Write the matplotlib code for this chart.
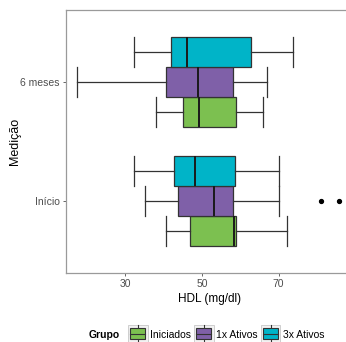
import numpy as np
import matplotlib
matplotlib.use("Agg")
import matplotlib.pyplot as plt
from matplotlib.patches import Rectangle
from matplotlib.lines import Line2D
from matplotlib.legend_handler import HandlerBase
from matplotlib.offsetbox import HPacker

plt.rcParams['font.family'] = ['Liberation Sans', 'DejaVu Sans']

# data (HDL mg/dl)
times = ["Início", "6 meses"]
groups = ["Iniciados", "1x Ativos", "3x Ativos"]
colors = ["#7CC050", "#7F60A8", "#00B4C8"]

# per group: [Início, 6 meses]
whislo = {"Iniciados": [40.6, 38.1], "1x Ativos": [35.2, 17.5], "3x Ativos": [32.3, 32.3]}
q1 = {"Iniciados": [46.8, 45.1], "1x Ativos": [43.8, 40.7], "3x Ativos": [42.8, 42.0]}
med = {"Iniciados": [58.3, 49.2], "1x Ativos": [53.2, 48.9], "3x Ativos": [48.2, 46.2]}
q3 = {"Iniciados": [58.8, 59.0], "1x Ativos": [58.1, 58.1], "3x Ativos": [58.7, 62.9]}
whishi = {"Iniciados": [72.1, 66.0], "1x Ativos": [70.0, 67.1], "3x Ativos": [70.0, 73.9]}
fliers = {"Iniciados": [[], []], "1x Ativos": [[81.0, 85.7], []], "3x Ativos": [[], []]}

edge = "#333333"


class BoxKeyHandler(HandlerBase):
    def create_artists(self, legend, orig, xd, yd, width, height, fontsize, trans):
        top, bot = yd + height * 1.55, yd - height * 0.55
        bg = Rectangle((xd, bot), width, top - bot, facecolor="#F2F2F2",
                       edgecolor="#C8C8C8", lw=0.6, transform=trans)
        cx = xd + width / 2
        wl = Line2D([cx, cx], [bot, top], color=edge, lw=0.8, transform=trans)
        bh = (top - bot) * 0.64
        mid = (top + bot) / 2
        box = Rectangle((xd + width * 0.12, mid - bh / 2), width * 0.76, bh,
                        facecolor=orig.get_facecolor(), edgecolor=edge, lw=0.8, transform=trans)
        ml = Line2D([xd + width * 0.12, xd + width * 0.88], [mid, mid],
                    color=edge, lw=0.8, transform=trans)
        return [bg, wl, box, ml]


def main():
    fig = plt.figure(figsize=(3.46, 3.42), dpi=100)
    ax = fig.add_axes([66 / 346, 69 / 342, 0.83, 263 / 342])

    pos = np.arange(1, len(times) + 1)
    width = 0.25
    offsets = [-width, 0, width]
    for g, col, off in zip(groups, colors, offsets):
        stats = []
        for i in range(len(times)):
            stats.append(dict(whislo=whislo[g][i], q1=q1[g][i], med=med[g][i],
                              q3=q3[g][i], whishi=whishi[g][i], fliers=fliers[g][i]))
        ax.bxp(stats, positions=pos + off, widths=width, capwidths=width,
               orientation='horizontal', patch_artist=True,
               boxprops=dict(facecolor=col, edgecolor=edge, lw=0.9),
               medianprops=dict(color="#1A1A1A", lw=1.4),
               whiskerprops=dict(color=edge, lw=0.9),
               capprops=dict(color=edge, lw=0.9),
               flierprops=dict(marker='o', markersize=2.8, markerfacecolor='black',
                               markeredgecolor='black'))

    ax.set_xlim(14.5, 89.5)
    ax.set_ylim(0.4, 2.6)
    ax.set_xticks([30, 50, 70])
    ax.set_yticks(pos)
    ax.set_yticklabels(times)
    ax.tick_params(labelsize=7.5, labelcolor="#4D4D4D", color="#4D4D4D",
                   length=2.5, width=0.6, pad=2)
    for s in ax.spines.values():
        s.set_color("#9A9A9A")
        s.set_linewidth(0.9)
    ax.spines['right'].set_visible(False)
    ax.set_xlabel("HDL (mg/dl)", fontsize=8.5, labelpad=3)
    ax.set_ylabel("Medição", fontsize=9)
    ax.yaxis.set_label_coords(-0.157, 0.5)

    handles = [Rectangle((0, 0), 1, 1, facecolor=c) for c in colors]
    leg = fig.legend(handles, groups, loc='center', bbox_to_anchor=(0.597, 0.02),
                     ncol=3, frameon=False, fontsize=7.5, handlelength=1.9,
                     handleheight=0.8, handletextpad=0.25, columnspacing=0.25,
                     title="Grupo", title_fontproperties={'weight': 'bold', 'size': 7.5},
                     handler_map={Rectangle: BoxKeyHandler()})
    # title to the left of the keys, like ggplot
    leg._legend_box._children = [HPacker(pad=0, sep=6, align="center",
                                         children=[leg._legend_title_box, leg._legend_handle_box])]

    fig.savefig("out.png", dpi=100)


if __name__ == '__main__':
    main()
